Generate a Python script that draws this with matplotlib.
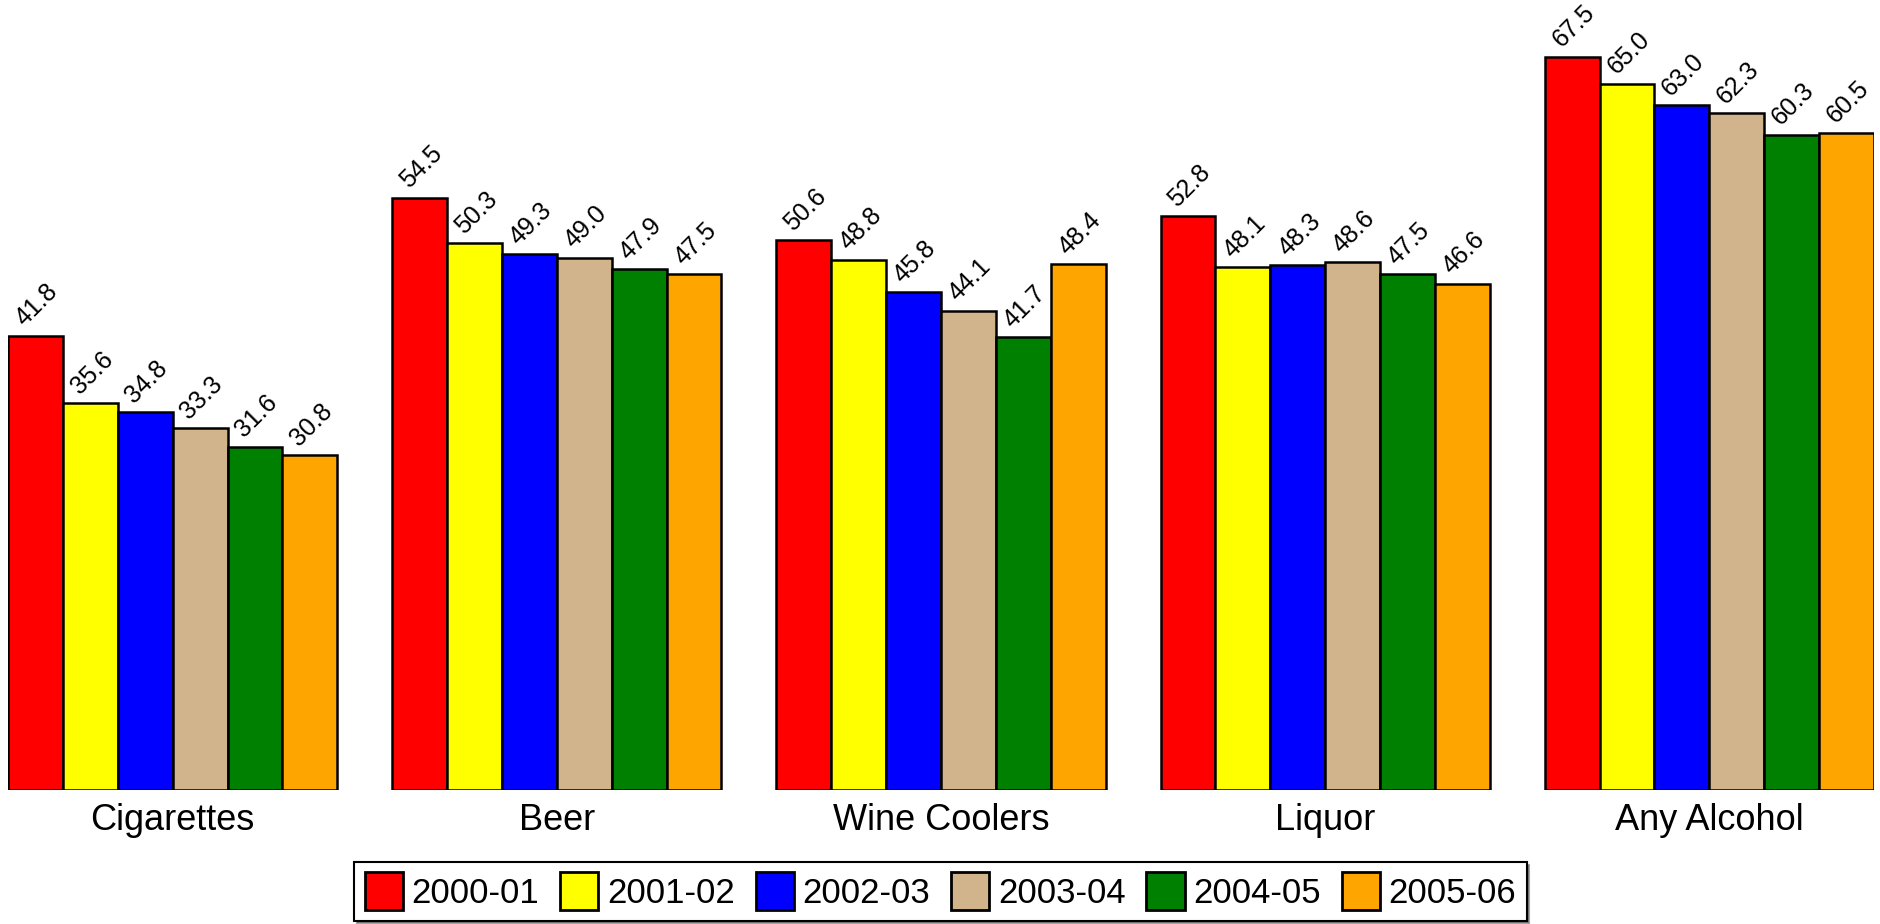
import matplotlib
matplotlib.use("Agg")
import matplotlib.pyplot as plt
import numpy as np

# ---Data----------------------------------------------------------------
categories = ["Cigarettes", "Beer", "Wine Coolers", "Liquor", "Any Alcohol"]
years = ["2000-01", "2001-02", "2002-03", "2003-04", "2004-05", "2005-06"]
colours = ["#FF0000", "#FFFF00", "#0000FF", "#D2B48C", "#008000", "#FFA500"]

cigarettes = [41.8, 35.6, 34.8, 33.3, 31.6, 30.8]
beer = [54.5, 50.3, 49.3, 49.0, 47.9, 47.5]
wine_coolers = [50.6, 48.8, 45.8, 44.1, 41.7, 48.4]
liquor = [52.8, 48.1, 48.3, 48.6, 47.5, 46.6]
any_alcohol = [67.5, 65.0, 63.0, 62.3, 60.3, 60.5]

values = np.array([cigarettes, beer, wine_coolers, liquor, any_alcohol])

plt.rcParams['font.family'] = ['Liberation Sans', 'DejaVu Sans']

fig = plt.figure(figsize=(18.81, 9.24), dpi=100)
ax = fig.add_axes([8 / 1881, 134 / 924, 1866 / 1881, 790 / 924])

group_step = 7
n_years = len(years)
for j, (year, colour) in enumerate(zip(years, colours)):
    x = np.arange(len(categories)) * group_step + j
    ax.bar(x, values[:, j], width=1.0, align='edge', color=colour,
           edgecolor='black', linewidth=1.8, label=year)
    for xi, v in zip(x, values[:, j]):
        # labels sit slanted just above the top-left corner of each bar
        ax.annotate(f"{v:.1f}", (xi, v), xytext=(12, 6), textcoords='offset points',
                    rotation=45, rotation_mode='anchor', ha='left', va='baseline',
                    fontsize=18)

ax.set_xlim(0, (len(categories) - 1) * group_step + n_years)
ax.set_ylim(0, 72.7)
ax.set_xticks(np.arange(len(categories)) * group_step + n_years / 2)
ax.set_xticklabels(categories, fontsize=26)
ax.tick_params(axis='x', length=0, pad=9)
ax.set_yticks([])
for spine in ax.spines.values():
    spine.set_visible(False)

leg = fig.legend(loc='lower center', bbox_to_anchor=(0.5, 0.0), ncol=n_years,
                 frameon=True, fancybox=False, shadow=True, edgecolor='black',
                 prop={'size': 25},
                 handlelength=1.1, handleheight=1.3, handletextpad=0.25,
                 columnspacing=0.6, borderpad=0.3, borderaxespad=0.1)
leg.get_frame().set_linewidth(1.5)
for h in leg.legend_handles:
    h.set_linewidth(2.0)

fig.savefig("out.png", dpi=100)
